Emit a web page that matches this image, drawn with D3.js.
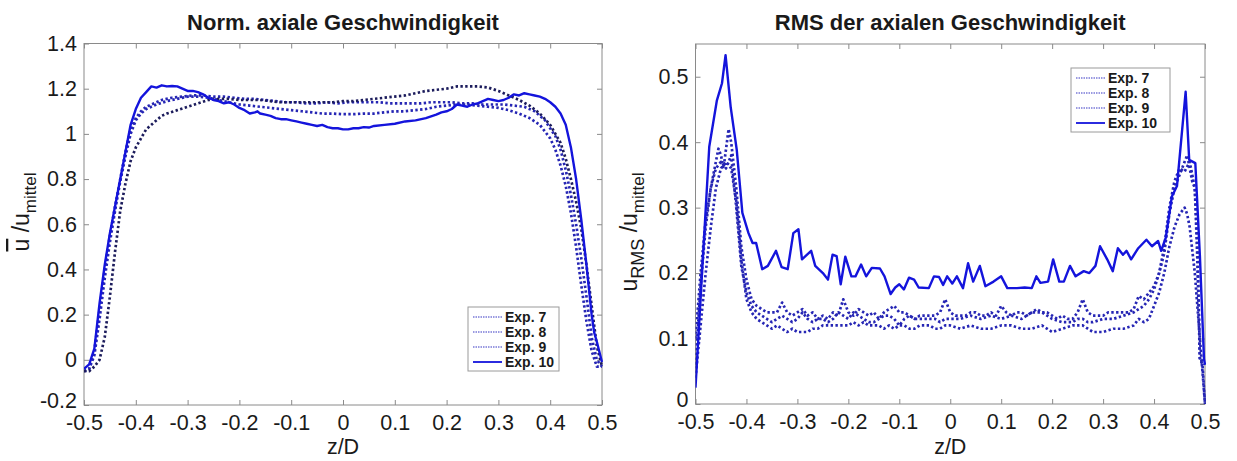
<!DOCTYPE html>
<html>
<head>
<meta charset="utf-8">
<script src="https://cdn.jsdelivr.net/npm/d3@7"></script>
<style>
  body { margin: 0; background: #fff; }
  svg { display: block; }
  text { font-family: "Liberation Sans", Arial, sans-serif; fill: #1a1a1a; }
</style>
</head>
<body>
<script>
const width = 1237;
const height = 461;

// ---- data: left panel (normalised axial velocity) ----
const meanX10 = [-0.5,-0.49,-0.48,-0.47,-0.46,-0.45,-0.44,-0.43,-0.42,-0.41,-0.40,-0.39,-0.38,-0.37,-0.36,-0.35,-0.34,-0.33,-0.32,-0.31,-0.30,-0.29,-0.28,-0.27,-0.26,-0.25,-0.24,-0.23,-0.22,-0.21,-0.20,-0.19,-0.18,-0.17,-0.165,-0.16,-0.15,-0.14,-0.13,-0.12,-0.11,-0.10,-0.09,-0.08,-0.07,-0.06,-0.05,-0.04,-0.03,-0.02,-0.01,0,0.01,0.02,0.03,0.04,0.05,0.06,0.08,0.10,0.12,0.14,0.16,0.18,0.19,0.20,0.21,0.22,0.23,0.24,0.25,0.26,0.27,0.28,0.29,0.30,0.31,0.32,0.33,0.34,0.35,0.36,0.37,0.38,0.39,0.40,0.41,0.42,0.43,0.44,0.45,0.46,0.47,0.48,0.485,0.49,0.50];
const meanExp10 = [-0.04,-0.02,0.05,0.25,0.42,0.56,0.68,0.80,0.92,1.04,1.11,1.16,1.185,1.21,1.205,1.215,1.21,1.212,1.21,1.20,1.19,1.19,1.185,1.175,1.16,1.15,1.145,1.135,1.14,1.13,1.115,1.105,1.09,1.095,1.10,1.09,1.085,1.08,1.07,1.065,1.065,1.06,1.055,1.05,1.045,1.04,1.035,1.04,1.03,1.025,1.025,1.02,1.02,1.025,1.025,1.03,1.028,1.035,1.04,1.045,1.055,1.06,1.07,1.085,1.095,1.10,1.11,1.13,1.125,1.12,1.13,1.135,1.145,1.155,1.15,1.145,1.15,1.16,1.175,1.17,1.18,1.175,1.17,1.165,1.155,1.14,1.12,1.09,1.04,0.94,0.80,0.62,0.42,0.20,0.12,0.08,-0.01];

const meanX7 = [-0.5,-0.49,-0.48,-0.47,-0.46,-0.45,-0.44,-0.43,-0.42,-0.41,-0.40,-0.39,-0.38,-0.37,-0.36,-0.35,-0.33,-0.31,-0.29,-0.27,-0.25,-0.23,-0.21,-0.19,-0.17,-0.15,-0.13,-0.11,-0.09,-0.07,-0.05,-0.03,-0.01,0.01,0.03,0.05,0.07,0.09,0.11,0.13,0.15,0.17,0.19,0.21,0.23,0.25,0.27,0.29,0.31,0.33,0.35,0.37,0.39,0.41,0.42,0.43,0.44,0.45,0.46,0.47,0.48,0.49,0.50];
const meanExp7 = [-0.05,-0.04,0.04,0.22,0.40,0.55,0.68,0.80,0.92,1.02,1.07,1.10,1.12,1.13,1.14,1.15,1.16,1.165,1.17,1.17,1.165,1.165,1.16,1.155,1.155,1.15,1.145,1.14,1.14,1.135,1.135,1.14,1.135,1.14,1.14,1.14,1.14,1.135,1.135,1.135,1.135,1.14,1.14,1.14,1.135,1.135,1.13,1.13,1.13,1.125,1.12,1.10,1.06,0.99,0.93,0.84,0.73,0.60,0.45,0.28,0.10,0.0,-0.03];

const meanX8 = [-0.5,-0.49,-0.48,-0.47,-0.46,-0.45,-0.44,-0.43,-0.42,-0.41,-0.40,-0.39,-0.38,-0.36,-0.34,-0.32,-0.30,-0.28,-0.26,-0.24,-0.22,-0.20,-0.18,-0.16,-0.14,-0.12,-0.10,-0.08,-0.06,-0.04,-0.02,0,0.02,0.04,0.06,0.08,0.10,0.12,0.14,0.16,0.18,0.20,0.22,0.24,0.26,0.28,0.30,0.32,0.34,0.36,0.38,0.40,0.41,0.42,0.43,0.44,0.45,0.46,0.47,0.48,0.49,0.50];
const meanExp8 = [-0.05,-0.04,0.02,0.18,0.36,0.52,0.66,0.79,0.90,1.00,1.06,1.09,1.11,1.13,1.145,1.155,1.165,1.165,1.16,1.15,1.14,1.13,1.125,1.12,1.115,1.11,1.105,1.10,1.095,1.09,1.09,1.087,1.087,1.09,1.09,1.095,1.10,1.10,1.105,1.11,1.12,1.125,1.13,1.13,1.125,1.12,1.115,1.105,1.09,1.07,1.04,0.98,0.93,0.86,0.77,0.65,0.50,0.33,0.17,0.04,-0.03,-0.03];

const meanX9 = [-0.5,-0.49,-0.48,-0.47,-0.46,-0.45,-0.44,-0.43,-0.42,-0.41,-0.40,-0.39,-0.38,-0.37,-0.36,-0.35,-0.34,-0.32,-0.30,-0.28,-0.26,-0.24,-0.22,-0.20,-0.18,-0.16,-0.14,-0.12,-0.10,-0.08,-0.06,-0.04,-0.02,0,0.02,0.04,0.06,0.08,0.10,0.12,0.14,0.16,0.18,0.20,0.22,0.24,0.26,0.28,0.30,0.32,0.34,0.36,0.38,0.40,0.42,0.43,0.44,0.45,0.46,0.47,0.48,0.49,0.50];
const meanExp9 = [-0.05,-0.05,-0.03,0.0,0.10,0.28,0.48,0.66,0.78,0.88,0.94,0.98,1.02,1.04,1.06,1.08,1.09,1.105,1.12,1.135,1.15,1.155,1.155,1.15,1.15,1.15,1.145,1.14,1.14,1.14,1.14,1.14,1.14,1.145,1.145,1.15,1.155,1.16,1.165,1.17,1.18,1.19,1.195,1.20,1.21,1.21,1.21,1.205,1.19,1.17,1.15,1.125,1.09,1.04,0.96,0.89,0.80,0.70,0.58,0.42,0.24,0.06,-0.03];

// ---- data: right panel (RMS) ----
const rmsX10 = [-0.5,-0.473,-0.458,-0.448,-0.441,-0.431,-0.419,-0.408,-0.396,-0.388,-0.381,-0.369,-0.358,-0.342,-0.331,-0.319,-0.308,-0.298,-0.291,-0.273,-0.265,-0.25,-0.24,-0.231,-0.223,-0.215,-0.206,-0.194,-0.186,-0.175,-0.165,-0.154,-0.138,-0.129,-0.117,-0.108,-0.1,-0.091,-0.081,-0.071,-0.062,-0.042,-0.032,-0.022,-0.014,-0.006,0.004,0.013,0.025,0.035,0.045,0.058,0.069,0.085,0.1,0.112,0.131,0.146,0.16,0.169,0.177,0.192,0.202,0.214,0.223,0.235,0.246,0.262,0.273,0.285,0.294,0.308,0.319,0.329,0.339,0.346,0.355,0.369,0.385,0.396,0.408,0.414,0.423,0.435,0.445,0.462,0.469,0.481,0.49,0.498,0.5];
const rmsExp10 = [0.025,0.393,0.464,0.49,0.533,0.454,0.388,0.292,0.261,0.246,0.246,0.206,0.211,0.234,0.209,0.206,0.261,0.267,0.221,0.234,0.211,0.2,0.19,0.228,0.226,0.183,0.225,0.195,0.195,0.213,0.195,0.208,0.207,0.195,0.168,0.178,0.183,0.175,0.193,0.19,0.178,0.177,0.195,0.194,0.182,0.195,0.184,0.195,0.177,0.215,0.187,0.211,0.18,0.187,0.195,0.177,0.177,0.178,0.177,0.195,0.185,0.187,0.221,0.187,0.187,0.211,0.195,0.203,0.2,0.211,0.241,0.221,0.203,0.238,0.228,0.234,0.221,0.238,0.251,0.241,0.249,0.234,0.254,0.317,0.333,0.477,0.373,0.368,0.226,0.069,0.06];

const rmsX7 = [-0.5,-0.49,-0.48,-0.47,-0.46,-0.455,-0.45,-0.445,-0.44,-0.435,-0.43,-0.42,-0.41,-0.40,-0.39,-0.38,-0.37,-0.36,-0.35,-0.34,-0.33,-0.32,-0.31,-0.30,-0.29,-0.28,-0.27,-0.26,-0.25,-0.24,-0.23,-0.22,-0.21,-0.20,-0.19,-0.18,-0.17,-0.16,-0.15,-0.14,-0.13,-0.12,-0.11,-0.10,-0.09,-0.08,-0.07,-0.06,-0.05,-0.04,-0.03,-0.02,-0.01,0,0.01,0.02,0.03,0.04,0.05,0.06,0.07,0.08,0.09,0.10,0.11,0.12,0.13,0.14,0.15,0.16,0.17,0.18,0.19,0.20,0.21,0.22,0.23,0.24,0.25,0.26,0.27,0.28,0.29,0.30,0.31,0.32,0.33,0.34,0.35,0.36,0.37,0.38,0.39,0.40,0.41,0.42,0.43,0.44,0.45,0.46,0.465,0.47,0.475,0.48,0.485,0.49,0.495,0.50];
const rmsExp7 = [0.06,0.18,0.27,0.33,0.37,0.39,0.38,0.36,0.39,0.42,0.40,0.33,0.24,0.19,0.16,0.15,0.145,0.14,0.14,0.14,0.155,0.14,0.135,0.14,0.145,0.135,0.14,0.13,0.135,0.13,0.14,0.135,0.16,0.14,0.135,0.145,0.14,0.135,0.14,0.13,0.14,0.145,0.15,0.14,0.14,0.135,0.13,0.135,0.135,0.135,0.135,0.14,0.16,0.14,0.135,0.135,0.135,0.14,0.14,0.135,0.135,0.14,0.135,0.15,0.14,0.135,0.14,0.14,0.135,0.14,0.145,0.14,0.14,0.135,0.13,0.135,0.13,0.13,0.14,0.16,0.14,0.135,0.135,0.135,0.14,0.14,0.14,0.14,0.14,0.145,0.165,0.16,0.17,0.18,0.20,0.23,0.29,0.33,0.35,0.37,0.38,0.36,0.34,0.33,0.25,0.07,0.06,0.0];

const rmsX8 = [-0.5,-0.49,-0.48,-0.47,-0.46,-0.45,-0.44,-0.43,-0.42,-0.41,-0.40,-0.39,-0.38,-0.37,-0.36,-0.35,-0.34,-0.33,-0.32,-0.31,-0.30,-0.29,-0.28,-0.27,-0.26,-0.25,-0.24,-0.23,-0.22,-0.21,-0.20,-0.19,-0.18,-0.17,-0.16,-0.15,-0.14,-0.13,-0.12,-0.11,-0.10,-0.09,-0.08,-0.07,-0.06,-0.05,-0.04,-0.03,-0.02,-0.01,0,0.02,0.04,0.06,0.08,0.10,0.12,0.14,0.16,0.18,0.20,0.22,0.24,0.25,0.26,0.27,0.28,0.30,0.32,0.34,0.36,0.37,0.38,0.39,0.40,0.41,0.42,0.43,0.44,0.45,0.46,0.47,0.475,0.48,0.485,0.49,0.495,0.50];
const rmsExp8 = [0.10,0.20,0.28,0.33,0.36,0.37,0.36,0.38,0.30,0.21,0.17,0.15,0.14,0.135,0.13,0.125,0.13,0.135,0.13,0.125,0.13,0.14,0.13,0.125,0.13,0.13,0.125,0.13,0.14,0.135,0.13,0.14,0.135,0.13,0.125,0.125,0.13,0.135,0.135,0.13,0.12,0.13,0.135,0.13,0.13,0.13,0.13,0.13,0.125,0.13,0.13,0.13,0.135,0.13,0.135,0.13,0.135,0.13,0.14,0.14,0.13,0.125,0.125,0.13,0.13,0.125,0.125,0.13,0.13,0.135,0.14,0.145,0.15,0.16,0.175,0.20,0.24,0.30,0.34,0.36,0.355,0.37,0.35,0.33,0.22,0.065,0.065,0.06];

const rmsX9 = [-0.5,-0.49,-0.48,-0.47,-0.46,-0.45,-0.44,-0.43,-0.42,-0.41,-0.40,-0.39,-0.38,-0.37,-0.36,-0.35,-0.34,-0.33,-0.32,-0.31,-0.30,-0.29,-0.28,-0.27,-0.26,-0.25,-0.24,-0.23,-0.22,-0.21,-0.20,-0.19,-0.18,-0.17,-0.16,-0.15,-0.14,-0.13,-0.12,-0.11,-0.10,-0.09,-0.08,-0.07,-0.06,-0.05,-0.04,-0.03,-0.02,-0.01,0,0.02,0.04,0.06,0.08,0.10,0.12,0.14,0.16,0.18,0.20,0.22,0.24,0.26,0.27,0.28,0.30,0.32,0.34,0.36,0.37,0.38,0.39,0.40,0.41,0.42,0.43,0.44,0.45,0.46,0.465,0.47,0.48,0.49,0.50];
const rmsExp9 = [0.04,0.12,0.20,0.27,0.33,0.36,0.37,0.36,0.31,0.22,0.16,0.14,0.13,0.125,0.12,0.115,0.12,0.115,0.11,0.115,0.11,0.11,0.11,0.115,0.115,0.12,0.12,0.12,0.12,0.12,0.12,0.125,0.12,0.125,0.12,0.12,0.12,0.115,0.12,0.115,0.12,0.12,0.115,0.115,0.12,0.12,0.12,0.115,0.115,0.12,0.12,0.115,0.12,0.115,0.115,0.12,0.12,0.115,0.115,0.12,0.11,0.115,0.12,0.12,0.115,0.11,0.11,0.115,0.115,0.12,0.13,0.125,0.13,0.15,0.17,0.20,0.24,0.27,0.29,0.30,0.29,0.27,0.20,0.10,0.0];

const legendLabels = ["Exp. 7", "Exp. 8", "Exp. 9", "Exp. 10"];
const xTicks = [-0.5, -0.4, -0.3, -0.2, -0.1, 0, 0.1, 0.2, 0.3, 0.4, 0.5];
const meanYTicks = [-0.2, 0, 0.2, 0.4, 0.6, 0.8, 1, 1.2, 1.4];
const rmsYTicks = [0, 0.1, 0.2, 0.3, 0.4, 0.5];

const dotBlue = "#2626b4";
const dotDark = "#1c1c5c";
const solidBlue = "#1414dc";
const boxGrey = "#8a8a8a";

const svg = d3.select("body").append("svg")
  .attr("width", width)
  .attr("height", height);

const fmt = d => String(Math.round(d * 10) / 10);

function drawPanel(p) {
  const x = d3.scaleLinear().domain([-0.5, 0.5]).range([p.left, p.right]);
  const y = d3.scaleLinear().domain(p.yDomain).range([p.bottom, p.top]);
  const g = svg.append("g");

  // matlab style box with inward ticks on all four sides
  g.append("rect")
    .attr("x", p.left).attr("y", p.top)
    .attr("width", p.right - p.left).attr("height", p.bottom - p.top)
    .attr("fill", "none").attr("stroke", boxGrey).attr("stroke-width", 1);

  const axB = g.append("g").attr("transform", "translate(0," + p.bottom + ")")
    .call(d3.axisBottom(x).tickValues(xTicks).tickFormat(fmt).tickSize(-5).tickSizeOuter(0).tickPadding(10));
  const axT = g.append("g").attr("transform", "translate(0," + p.top + ")")
    .call(d3.axisTop(x).tickValues(xTicks).tickFormat("").tickSize(-5).tickSizeOuter(0));
  const axL = g.append("g").attr("transform", "translate(" + p.left + ",0)")
    .call(d3.axisLeft(y).tickValues(p.yTicks).tickFormat(fmt).tickSize(-5).tickSizeOuter(0).tickPadding(7));
  const axR = g.append("g").attr("transform", "translate(" + p.right + ",0)")
    .call(d3.axisRight(y).tickValues(p.yTicks).tickFormat("").tickSize(-5).tickSizeOuter(0));

  [axB, axT, axL, axR].forEach(a => {
    a.select(".domain").remove();
    a.selectAll("line").attr("stroke", boxGrey);
    a.selectAll("text")
      .style("font-family", "'Liberation Sans', Arial, sans-serif")
      .style("font-size", "21.5px")
      .attr("fill", "#1a1a1a");
  });
  // lift the lowest y label a little so it clears the x labels
  axL.selectAll(".tick text").filter(d => d === p.yDomain[0]).attr("dy", "0.1em");

  const clip = "clip" + p.id;
  svg.append("clipPath").attr("id", clip).append("rect")
    .attr("x", p.left).attr("y", p.top - 2)
    .attr("width", p.right - p.left + 1).attr("height", p.bottom - p.top + 4);

  const line = d3.line().x(d => x(d[0])).y(d => y(d[1]));
  const lines = g.append("g").attr("clip-path", "url(#" + clip + ")");
  p.series.forEach(s => {
    lines.append("path")
      .datum(d3.zip(s.xs, s.ys))
      .attr("d", line)
      .attr("fill", "none")
      .attr("stroke", s.color)
      .attr("stroke-width", s.dotted ? 2.7 : 2.4)
      .attr("stroke-dasharray", s.dotted ? "2.4,2.4" : null)
      .attr("stroke-linejoin", "round");
  });

  // title
  g.append("text")
    .attr("x", (p.left + p.right) / 2).attr("y", 30)
    .attr("text-anchor", "middle")
    .style("font-size", "22px").style("font-weight", "bold")
    .text(p.title);

  // x label
  g.append("text")
    .attr("x", (p.left + p.right) / 2).attr("y", 454)
    .attr("text-anchor", "middle")
    .style("font-size", "21.5px")
    .text("z/D");

  // y label
  const yl = g.append("text")
    .attr("transform", "translate(" + p.ylabX + "," + p.ylabY + ") rotate(-90)")
    .attr("text-anchor", "middle")
    .style("font-size", "23px");
  p.ylabel(yl);

  // legend
  const lg = g.append("g").attr("transform", "translate(" + p.legX + "," + p.legY + ")");
  lg.append("rect").attr("width", p.legW).attr("height", 64)
    .attr("fill", "#fff").attr("stroke", "#9a9a9a").attr("stroke-width", 1);
  legendLabels.forEach((lab, i) => {
    const cy = 10 + i * 15;
    lg.append("line")
      .attr("x1", 5).attr("x2", 34).attr("y1", cy).attr("y2", cy)
      .attr("stroke", i < 3 ? "#7a7ad8" : solidBlue)
      .attr("stroke-width", i < 3 ? 1.3 : 1.8)
      .attr("stroke-dasharray", i < 3 ? "1.5,1" : null);
    lg.append("text")
      .attr("x", 37).attr("y", cy + 5)
      .style("font-size", "14px").style("font-weight", "bold")
      .text(lab);
  });
}

drawPanel({
  id: "a",
  left: 84, right: 602, top: 43.5, bottom: 405,
  yDomain: [-0.2, 1.4], yTicks: meanYTicks,
  title: "Norm. axiale Geschwindigkeit",
  ylabX: 29, ylabY: 212,
  ylabel: t => {
    t.append("tspan").style("text-decoration", "overline").text("u");
    t.append("tspan").text(" /u");
    t.append("tspan").attr("dy", 7).style("font-size", "17px").text("mittel");
  },
  legX: 468, legY: 307, legW: 91,
  series: [
    { xs: meanX7, ys: meanExp7, color: dotBlue, dotted: true },
    { xs: meanX8, ys: meanExp8, color: dotBlue, dotted: true },
    { xs: meanX9, ys: meanExp9, color: dotDark, dotted: true },
    { xs: meanX10, ys: meanExp10, color: solidBlue, dotted: false }
  ]
});

drawPanel({
  id: "b",
  left: 695.5, right: 1205, top: 44, bottom: 404,
  yDomain: [0, 0.55], yTicks: rmsYTicks,
  title: "RMS der axialen Geschwindigkeit",
  ylabX: 637, ylabY: 232,
  ylabel: t => {
    t.append("tspan").text("u");
    t.append("tspan").attr("dy", 7).style("font-size", "18px").text("RMS");
    t.append("tspan").attr("dy", -7).text(" /u");
    t.append("tspan").attr("dy", 7).style("font-size", "17px").text("mittel");
  },
  legX: 1071, legY: 68, legW: 99,
  series: [
    { xs: rmsX7, ys: rmsExp7, color: dotBlue, dotted: true },
    { xs: rmsX8, ys: rmsExp8, color: dotBlue, dotted: true },
    { xs: rmsX9, ys: rmsExp9, color: dotBlue, dotted: true },
    { xs: rmsX10, ys: rmsExp10, color: solidBlue, dotted: false }
  ]
});
</script>
</body>
</html>
